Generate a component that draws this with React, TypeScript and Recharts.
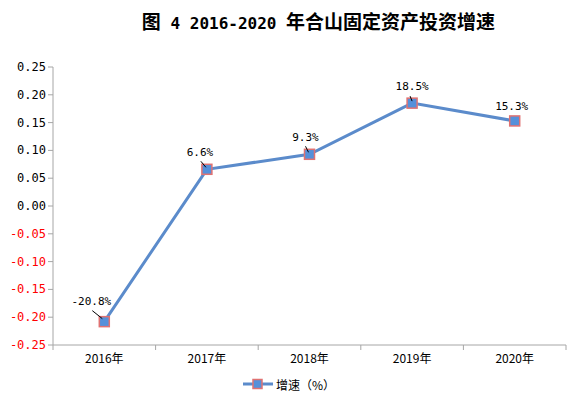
import React from 'react';
import { LineChart, Line, XAxis, YAxis, LabelList } from 'recharts';

const categories = ['2016年', '2017年', '2018年', '2019年', '2020年'];
const growth = [-0.208, 0.066, 0.093, 0.185, 0.153];
const growthLabels = ['-20.8%', '6.6%', '9.3%', '18.5%', '15.3%'];
const yTicks = [-0.25, -0.2, -0.15, -0.1, -0.05, 0, 0.05, 0.1, 0.15, 0.2, 0.25];
const seriesName = '增速（%）';
const titleParts = ['图', ' 4 2016-2020 ', '年合山固定资产投资增速'];

const data = categories.map((c, i) => ({ year: c, v: growth[i], label: growthLabels[i] }));

// label placement relative to point: text offset (baseline) and optional leader line
const labelLayout = [
  { tx: -13, ty: -17, leader: [-12, -11, -2, -3] },
  { tx: -7, ty: -13, leader: [-6, -8, -1, -2] },
  { tx: -4, ty: -13, leader: [-4, -8, -1, -2] },
  { tx: 0, ty: -13, leader: [-2, -7, 0, -2] },
  { tx: -3, ty: -11, leader: null as number[] | null },
];

const FONT = '"Noto Sans CJK SC", "DejaVu Sans", sans-serif';
const MONO = '"DejaVu Sans Mono", "Noto Sans CJK SC", monospace';
const AXIS = '#A6A6A6';
const LINE = '#5B8BCB';
const MARK_FILL = '#5590DA';
const MARK_EDGE = '#E07272';

const Marker = (props: any) => {
  const { cx, cy } = props;
  if (cx == null || cy == null) return null;
  return <rect x={cx - 5} y={cy - 5} width={10} height={10} fill={MARK_FILL} stroke={MARK_EDGE} strokeWidth={1.5} />;
};

const PointLabel = (props: any) => {
  const { x, y, index, value } = props;
  const l = labelLayout[index];
  if (!l) return null;
  return (
    <g>
      {l.leader && (
        <line x1={x + l.leader[0]} y1={y + l.leader[1]} x2={x + l.leader[2]} y2={y + l.leader[3]} stroke="#000" strokeWidth={1} />
      )}
      <text x={x + l.tx} y={y + l.ty} textAnchor="middle" fontSize={11} fill="#000" fontFamily={MONO}>
        {value}
      </text>
    </g>
  );
};

const YTick = (props: any) => {
  const { x, y, payload } = props;
  const v = payload.value as number;
  return (
    <text x={x} y={y} dy={4} textAnchor="end" fontSize={12} fill={v < 0 ? '#FF0000' : '#000'} fontFamily={MONO}>
      {v.toFixed(2)}
    </text>
  );
};

const XTick = (props: any) => {
  const { x, y, payload, index } = props;
  const off = payload.offset ?? 51;
  return (
    <g>
      <line x1={x - off} y1={y - 8} x2={x - off} y2={y - 3} stroke={AXIS} />
      {index === categories.length - 1 && <line x1={x + off} y1={y - 8} x2={x + off} y2={y - 3} stroke={AXIS} />}
      <text x={x} y={y} dy={10} textAnchor="middle" fontSize={12} fill="#000" fontFamily={FONT}>
        {payload.value}
      </text>
    </g>
  );
};

export default function App() {
  return (
    <div style={{ position: 'absolute', left: 0, top: 0, width: 580, height: 401, background: '#fff' }}>
      <div
        style={{
          position: 'absolute', left: 0, top: 9, width: 637, textAlign: 'center', whiteSpace: 'pre',
          fontFamily: FONT, fontWeight: 'bold', fontSize: 19, color: '#000', lineHeight: '24px',
        }}
      >
        <span>{titleParts[0]}</span>
        <span style={{ fontFamily: MONO, fontSize: 16 }}>{titleParts[1]}</span>
        <span>{titleParts[2]}</span>
      </div>
      <LineChart width={580} height={401} data={data} margin={{ top: 67, right: 14, bottom: 26, left: 3 }}>
        <XAxis dataKey="year" scale="band" height={30} stroke={AXIS} tickLine={false} tick={<XTick />} interval={0} />
        <YAxis
          type="number"
          domain={[-0.25, 0.25]}
          ticks={yTicks}
          width={50}
          stroke={AXIS}
          tickSize={5}
          tick={<YTick />}
          interval={0}
          allowDataOverflow
        />
        <Line
          dataKey="v"
          name={seriesName}
          stroke={LINE}
          strokeWidth={3}
          dot={<Marker />}
          activeDot={false}
          isAnimationActive={false}
        >
          <LabelList dataKey="label" content={<PointLabel />} />
        </Line>
      </LineChart>
      <div
        style={{
          position: 'absolute', left: 243, top: 376, height: 16, display: 'flex', alignItems: 'center',
          fontFamily: FONT, fontSize: 12, color: '#000',
        }}
      >
        <svg width={30} height={12} style={{ marginRight: 3 }}>
          <line x1={0} y1={6} x2={30} y2={6} stroke={LINE} strokeWidth={3} />
          <rect x={10} y={1.5} width={9} height={9} fill={MARK_FILL} stroke={MARK_EDGE} strokeWidth={1.5} />
        </svg>
        <span>{seriesName}</span>
      </div>
    </div>
  );
}
